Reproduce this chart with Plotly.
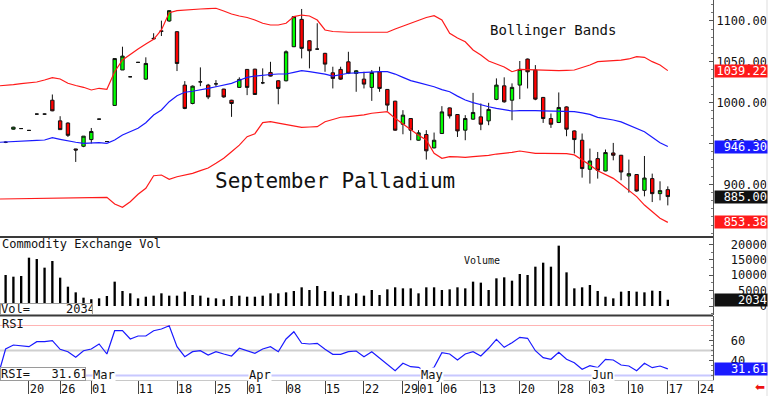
import plotly.graph_objects as go

# ---------------- data (trading-day index, 0 = Feb 20 2024) ----------------
day = list(range(-3, 83))          # candles / volume
band_day = list(range(-4, 83))     # bands / RSI (one point before first candle)

open_ = [951.5, 967.5, 968.3, 966, 986, 986, 1003, 977.7, 975, 943.3,
         946.6, 954.8, 979.8, 952.4, 996.6, 1040, 1031.7, 1049.3, 1028.8, 1078.8,
         1087.7, 1100, 1086.9, 1021.5, 999, 1025.5, 1021.5, 1023, 1016.6, 1003,
         1018.7, 1040.7, 1041, 1024.3, 1037, 1026.8, 1026.8, 1068.5, 1102, 1075.8,
         1065.6, 1060.4, 1036.6, 1040.7, 1050, 1035.8, 1028.8, 1018.7, 1037.8, 1016.2,
         1001.8, 973.6, 980.6, 954, 961, 944.6, 962.2, 993.6, 985.5, 966.3,
         979.8, 982.6, 977.7, 1004, 1020.6, 1003, 1021.5, 1053.4, 1039.9, 1006.4,
         980.6, 975.7, 994.8, 965.4, 954, 918.4, 931.5, 916.3, 938.4, 935.6,
         910.2, 912, 892.6, 907, 888.6, 893.5]
high = [952.5, 970.5, 968.8, 966.5, 986.5, 986.5, 1010, 983.4, 976, 943.5,
        959, 969, 980.3, 952.9, 1054, 1068.5, 1032.2, 1049.8, 1055.5, 1085,
        1100.4, 1113, 1087.5, 1026.4, 1021, 1043.2, 1023, 1027.6, 1017, 1003.5,
        1031, 1041, 1041.5, 1042, 1050, 1027.5, 1064, 1106, 1114.7, 1076.3,
        1097.2, 1061, 1044, 1044, 1062.3, 1040, 1037.8, 1040, 1044, 1016.7,
        1002.3, 990.8, 981, 966.3, 966.3, 963.4, 995.7, 994, 986, 984.7,
        1012, 999, 999.8, 1029.7, 1031, 1023.6, 1051, 1054, 1046, 1007,
        986.7, 1012.5, 995.5, 966, 962.2, 943.8, 939.6, 942.6, 950.7, 936,
        930.3, 912.5, 934.7, 913.1, 903.7, 897.5]
low = [950.5, 967, 967.8, 965.5, 985.5, 985.5, 989.5, 967, 958, 927.4,
       945.5, 950, 979.3, 951.9, 996, 1040, 1031.2, 1048.8, 1028, 1076.7,
       1081.6, 1099, 1038.7, 992, 998, 1020.2, 1004.3, 1019.6, 1006, 982.6,
       1018, 1009.2, 1010, 1022.7, 1032, 998, 1026, 1068, 1054.2, 1042,
       1065, 1037.8, 1017.4, 1028, 1035, 1013.3, 1017.4, 1002.2, 1013.3, 990,
       965.5, 961.3, 954, 953.5, 930.3, 944, 962, 980.6, 958, 954,
       979, 966.3, 972.4, 1003, 1000, 978.5, 1004.3, 1017.4, 1003, 975.2,
       969.1, 975, 958.9, 937.7, 908.2, 900.9, 907, 916, 929.4, 905,
       889.8, 891, 885.3, 878.3, 880.4, 874.2]
close = [951.5, 970, 968.3, 966, 986, 986, 990, 967, 960, 942,
         959, 964.7, 979.8, 952.4, 1054, 1057, 1031.7, 1049.3, 1048, 1078.3,
         1087.5, 1112.6, 1048, 992.9, 1020.2, 1025.5, 1007, 1023, 1007, 999,
         1028.5, 1018.7, 1010, 1024.3, 1032.5, 1017.4, 1062.3, 1105.3, 1066.5, 1063.6,
         1065.6, 1047.2, 1029.7, 1028.8, 1036, 1039, 1022.7, 1037, 1017.4, 997,
         966.3, 984.7, 966.3, 963, 941, 954, 988.7, 983.8, 965.4, 980.6,
         988, 973.6, 991.7, 1021.5, 1001, 1018.7, 1040.7, 1037.8, 1004.3, 980.6,
         973.6, 994.1, 967.5, 954.8, 919.3, 928.6, 917.2, 938.9, 935.6, 915.1,
         913.1, 891.8, 907.7, 888.6, 892.3, 885.0]

upper = [1020.5, 1021, 1022, 1023.4, 1024, 1025.3, 1027.7, 1030.6, 1029, 1023.7,
         1021, 1018.8, 1015.5, 1017.6, 1016.4, 1037.9, 1052.2, 1059.2, 1065.7, 1071.8,
         1077.6, 1089, 1110.2, 1112.6, 1113.5, 1114, 1114.7, 1115.2, 1115.6, 1112.2,
         1108.6, 1106.1, 1104.3, 1101.2, 1097.2, 1095.1, 1095.1, 1097.2, 1105.3, 1107.3,
         1106.1, 1101.2, 1089, 1087.1, 1086.2, 1086.2, 1086.2, 1086.2, 1086.2, 1086.2,
         1086.2, 1090.2, 1093.9, 1097.2, 1100.6, 1104.3, 1106.5, 1101.2, 1084.9, 1079.2,
         1074.6, 1064.5, 1058.4, 1051, 1047.3, 1043.7, 1037.9, 1040.8, 1040.5, 1040,
         1039.6, 1039.4, 1039.1, 1039.6, 1040, 1043, 1046.1, 1050.2, 1050.6, 1051,
         1052.2, 1053.5, 1056.3, 1055.5, 1050.2, 1046.1, 1039.22]
middle = [951.4, 951.7, 952.2, 952.8, 953.3, 953.8, 954.3, 957.1, 955.1, 953,
          951.5, 950.2, 950.5, 951, 950.2, 954.3, 960.4, 964.5, 968.6, 975.5,
          984.9, 991, 1001.2, 1008.5, 1012.7, 1014, 1015.5, 1017.5, 1019.5, 1021.5,
          1023.7, 1027.5, 1031, 1032.6, 1033.9, 1034.5, 1035.1, 1035.1, 1037, 1039.1,
          1038, 1036.7, 1035, 1032.6, 1034.5, 1036, 1036.5, 1037, 1037.9, 1037.9,
          1037.9, 1035, 1031, 1027, 1024.5, 1022, 1019.5, 1016, 1013.4, 1008,
          1003.2, 1000, 997.1, 995, 993.1, 991.5, 989.8, 990.2, 990.5, 990.3,
          990, 989.8, 989.8, 989.4, 988.9, 987.5, 985.7, 982, 980.5, 978.8,
          976.5, 972.6, 968.5, 964.4, 957.6, 951, 946.30]
lower = [882, 882.2, 882.5, 882.7, 882.9, 883, 883.2, 883.4, 883.6, 883.8,
         884, 884, 884.1, 884.1, 884.1, 875.9, 871.8, 878.7, 887.8, 895.1,
         910.5, 911.4, 906.1, 909.3, 911.5, 913.5, 916.7, 920, 925.7, 932,
         939.9, 948, 958.3, 962, 975.5, 976.7, 975, 973.5, 971.5, 969.8,
         970.2, 970.6, 976.7, 979, 982.1, 983, 984, 985, 987, 987.5,
         988.9, 980.8, 974, 966.5, 960, 954.3, 938, 931.8, 933.8, 933.5,
         933.1, 934, 934.7, 935.5, 937.1, 938, 939.2, 940.8, 939, 938,
         938, 938, 938, 937.5, 936, 930, 923.6, 916.7, 912, 907.3,
         900, 893, 885, 874.6, 866, 858.4, 853.38]

volume = [10080, 9530, 9750, 15700, 15280, 12460, 14630, 9210, 6280, 4440,
          2710, 2200, 2490, 3250, 7910, 4880, 4120, 2490, 3030, 3360,
          4120, 3360, 3360, 4660, 3580, 3360, 2710, 2490, 2170, 3250,
          3360, 3030, 3030, 3360, 4120, 4120, 4440, 4880, 6070, 5200,
          6500, 4880, 4660, 3580, 3360, 4120, 3360, 5200, 3580, 5420,
          6070, 5740, 5740, 4120, 6070, 6070, 5200, 5420, 6070, 5740,
          7910, 7590, 5200, 8990, 9320, 8230, 10400, 10080, 12780, 14080,
          12780, 19610, 10940, 5740, 6070, 6830, 4880, 3030, 2490, 4660,
          4880, 4660, 4440, 4990, 4880, 2034]

rsi = [24, 51.5, 55.5, 54.5, 53.8, 58.8, 58.8, 59.8, 51.2, 48.8,
       43.2, 49.8, 51.5, 56.5, 46.5, 69.8, 69.8, 61.5, 64.5, 64.5,
       69.8, 71.5, 74.8, 53.8, 43.8, 48.8, 49.8, 45.5, 48.8, 46.5,
       44.5, 52.2, 49.8, 47.2, 51.5, 53.8, 48.8, 61.5, 68.8, 57.2,
       56.5, 57.2, 51.2, 46.2, 46.2, 48.8, 49.5, 43.8, 48.8, 42.2,
       36.2, 29.8, 37.2, 33.8, 33.2, 28.8, 33.2, 47.8, 46.5, 40.5,
       46.5, 48.8, 44.5, 52.2, 61.2, 53.2, 57.8, 63.2, 62.2, 49.8,
       42.8, 41.2, 48.2, 41.2, 37.8, 31.2, 34.8, 32.8, 41.2, 40.5,
       35.5, 34.5, 29.8, 37.2, 32.8, 34.5, 31.61]

tick_days = [0, 4, 8, 14, 19, 24, 28, 33, 38, 43, 48, 50, 53, 58, 63, 68, 72, 77, 82, 86]
tick_labels = ["20", "26", "01", "11", "18", "25", "01", "08", "15", "22",
               "29", "01", "06", "13", "20", "28", "03", "10", "17", "24"]
month_days = [8, 28, 50, 72]
month_labels = ["Mar", "Apr", "May", "Jun"]

price_ticks = [900, 950, 1000, 1050, 1100]
vol_ticks = [0, 5000, 10000, 15000, 20000]
rsi_ticks = [40, 60]

# ---------------- figure ----------------
MONO = "DejaVu Sans Mono"
NB = "\u00a0"
PLOT_H = 380.0


def pad(s, n):
    return NB * (n - len(s)) + s


fig = go.Figure()

fig.add_trace(go.Candlestick(
    x=day, open=open_, high=high, low=low, close=close,
    increasing=dict(line=dict(color="#111111", width=1), fillcolor="#00ff00"),
    decreasing=dict(line=dict(color="#111111", width=1), fillcolor="#ff0000"),
    whiskerwidth=0, xaxis="x", yaxis="y", hoverinfo="skip"))

for vals, col in ((upper, "#ff1a1a"), (middle, "#1a1aff"), (lower, "#ff1a1a")):
    fig.add_trace(go.Scatter(x=band_day, y=vals, mode="lines",
                             line=dict(color=col, width=1.2),
                             xaxis="x", yaxis="y", hoverinfo="skip"))

fig.add_trace(go.Bar(x=day, y=volume, width=0.3, marker=dict(color="#000000", line=dict(width=0)),
                     xaxis="x", yaxis="y2", hoverinfo="skip"))

fig.add_trace(go.Scatter(x=band_day, y=rsi, mode="lines", line=dict(color="#1a1aff", width=1.2),
                         xaxis="x", yaxis="y3", hoverinfo="skip"))

axis_common = dict(side="right", anchor="x", showgrid=False, zeroline=False,
                   showline=True, linecolor="#555555", linewidth=1,
                   ticks="inside", ticklen=4, tickcolor="#555555",
                   tickfont=dict(family=MONO, size=12, color="#111111"),
                   fixedrange=True)

fig.update_layout(
    width=768, height=396,
    margin=dict(l=0, r=55, t=0, b=16),
    paper_bgcolor="white", plot_bgcolor="white",
    showlegend=False, hovermode=False,
    boxgap=0.38,
    xaxis=dict(range=[-3.72, 87.8], anchor="y3", showgrid=False, zeroline=False,
               showline=True, linecolor="#c8c8c8",
               tickvals=tick_days, ticktext=tick_labels, tickangle=0,
               ticks="outside", ticklen=13, tickcolor="#444444",
               ticklabelshift=8, ticklabelstandoff=-15,
               tickfont=dict(family=MONO, size=12, color="#111111"),
               rangeslider=dict(visible=False), fixedrange=True),
    yaxis=dict(domain=[(PLOT_H - 237) / PLOT_H, 1], range=[835.5, 1125.7],
               tickvals=price_ticks,
               ticktext=[pad(f"{v:.2f}", 7) for v in price_ticks],
               minor=dict(dtick=10, ticks="inside", ticklen=2, tickcolor="#777777"),
               **axis_common),
    yaxis2=dict(domain=[(PLOT_H - 315) / PLOT_H, (PLOT_H - 237) / PLOT_H], range=[-2925, 22425],
                tickvals=vol_ticks, ticktext=[pad(str(v), 7) for v in vol_ticks],
                minor=dict(dtick=2500, ticks="inside", ticklen=2, tickcolor="#777777"),
                **axis_common),
    yaxis3=dict(domain=[0, (PLOT_H - 316) / PLOT_H], range=[20.5, 84.5],
                tickvals=rsi_ticks, ticktext=[NB * 2 + str(v) for v in rsi_ticks],
                minor=dict(dtick=5, ticks="inside", ticklen=2, tickcolor="#777777"),
                **axis_common),
)

# RSI reference levels
for lvl, col, w in ((75, "#ffb4b4", 1), (50, "#cfcfcf", 2), (25, "#c8c8ff", 2)):
    fig.add_shape(type="line", xref="paper", x0=0, x1=1, yref="y3", y0=lvl, y1=lvl,
                  line=dict(color=col, width=w), layer="below")

# panel separators
for ypx in (237, 315.5):
    fig.add_shape(type="line", xref="paper", x0=0, x1=1, yref="paper",
                  y0=(PLOT_H - ypx) / PLOT_H, y1=(PLOT_H - ypx) / PLOT_H,
                  line=dict(color="#3a3a3a", width=2))

# far right light border
fig.add_shape(type="line", xref="paper", x0=767 / 713, x1=767 / 713, yref="paper",
              y0=-16 / PLOT_H, y1=1, line=dict(color="#dddddd", width=1))

ann = []


def text(t, xpx, ypx, size, color="#111111", **kw):
    ann.append(dict(text=t, xref="paper", yref="paper", x=xpx / 713.0,
                    y=(PLOT_H - ypx) / PLOT_H, xanchor="left", yanchor="middle",
                    showarrow=False, font=dict(family=MONO, size=size, color=color), **kw))


text("September Palladium", 213, 181, 21)
text("Bollinger Bands", 488, 30, 14)
text("Commodity Exchange Vol", 0, 244, 12)
text("Volume", 462, 260, 10)
text("RSI", 0, 324, 12)

text("Vol=" + NB * 5 + f"{volume[-1]}", 0, 308.5, 12,
     bgcolor="white", bordercolor="#9a9a9a", borderwidth=1, borderpad=0,
     width=91, height=10, align="left")
text("RSI=" + NB * 3 + f"{rsi[-1]:.2f}", 0, 373.5, 12,
     bgcolor="white", bordercolor="#9a9a9a", borderwidth=1, borderpad=0,
     width=84, height=12, align="left")

# month labels on the time axis
for d, m in zip(month_days, month_labels):
    ann.append(dict(text=m, xref="x", yref="y3", x=d, y=25.3, xanchor="left", xshift=1,
                    yanchor="middle", showarrow=False, bgcolor="white", borderpad=0,
                    font=dict(family=MONO, size=12, color="#111111")))

# last-value boxes on the right axis
for val, yref, bg, fmt in ((upper[-1], "y", "#ff1a1a", "{:.2f}"),
                           (middle[-1], "y", "#1a1aff", "{:.2f}"),
                           (close[-1], "y", "#111111", "{:.2f}"),
                           (lower[-1], "y", "#ff1a1a", "{:.2f}"),
                           (volume[-1], "y2", "#111111", "{}"),
                           (rsi[-1], "y3", "#1a1aff", "{:.2f}")):
    ann.append(dict(text=fmt.format(val), xref="paper", yref=yref, x=1, y=val,
                    xanchor="left", xshift=1, yanchor="middle", showarrow=False,
                    bgcolor=bg, borderpad=0, width=52, height=12, align="right",
                    font=dict(family=MONO, size=12, color="white")))

ann.append(dict(text="\u2b05", xref="paper", yref="paper", x=760 / 713.0, y=(PLOT_H - 387) / PLOT_H,
                xanchor="center", yanchor="middle", showarrow=False,
                font=dict(family="DejaVu Sans", size=12, color="#ee1111")))

fig.update_layout(annotations=ann)

fig.write_html("out.html", config={"displayModeBar": False},
               post_script="document.body.style.margin='0';document.body.style.padding='0';"
                           "document.documentElement.style.overflow='hidden';")
